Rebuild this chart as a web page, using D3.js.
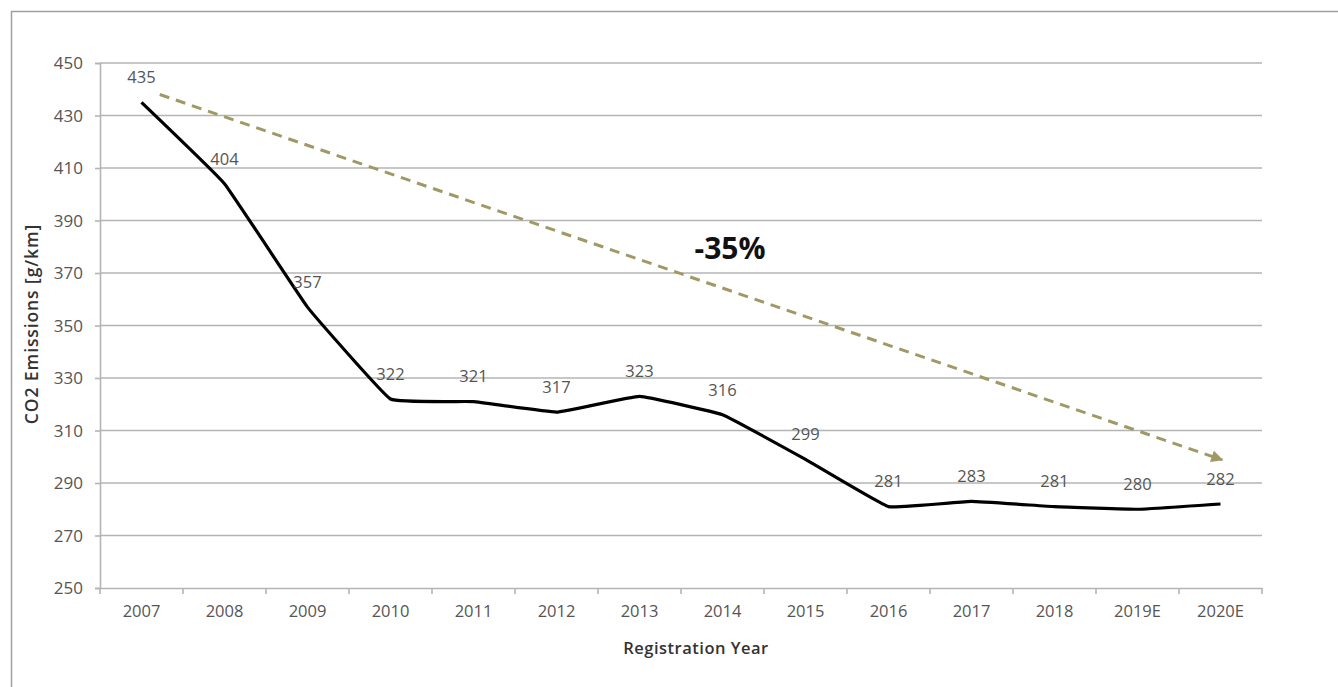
<!DOCTYPE html>
<html>
<head>
<meta charset="utf-8">
<script src="https://cdn.jsdelivr.net/npm/d3@7"></script>
<style>
  html, body { margin: 0; padding: 0; background: #fff; }
  svg { display: block; }
</style>
</head>
<body>
<svg id="chart" width="1338" height="687"></svg>
<script>
// ---- data ----
const years = ["2007","2008","2009","2010","2011","2012","2013","2014","2015","2016","2017","2018","2019E","2020E"];
const emissions = [435, 404, 357, 322, 321, 317, 323, 316, 299, 281, 283, 281, 280, 282];
const yTicks = [250, 270, 290, 310, 330, 350, 370, 390, 410, 430, 450];
// trend arrow: [category index position, value]
const trendStart = [0.22, 438];
const trendEnd = [13.02, 298.8];
const trendLabel = "-35%";
const xTitle = "Registration Year";
const yTitle = "CO2 Emissions [g/km]";

// ---- layout ----
const svg = d3.select("#chart");
const W = 1338, H = 687;
const pLeft = 100, pRight = 1262, pTop = 63, pBottom = 588;
const font = "'Open Sans', sans-serif";

// frame border
svg.append("path")
  .attr("d", `M11.5,${H} L11.5,11.5 L${W},11.5`)
  .attr("fill", "none").attr("stroke", "#a0a0a0").attr("stroke-width", 1.5);

const x = d3.scaleBand().domain(years).range([pLeft, pRight]).padding(0);
const y = d3.scaleLinear().domain([250, 450]).range([pBottom, pTop]);
const xi = d3.scaleLinear().domain([0, years.length - 1])
  .range([x(years[0]) + x.bandwidth() / 2, x(years[years.length - 1]) + x.bandwidth() / 2]);

// gridlines
svg.append("g").selectAll("line").data(yTicks.filter(d => d !== 250)).join("line")
  .attr("x1", pLeft).attr("x2", pRight)
  .attr("y1", d => y(d)).attr("y2", d => y(d))
  .attr("stroke", "#b4b4b4").attr("stroke-width", 1.6);

// y axis
const yAxis = svg.append("g").attr("transform", `translate(${pLeft},0)`)
  .call(d3.axisLeft(y).tickValues(yTicks).tickSize(5).tickPadding(12));
yAxis.select(".domain").attr("stroke", "#b4b4b4").attr("stroke-width", 1.6);
yAxis.selectAll(".tick line").attr("stroke", "#b4b4b4").attr("stroke-width", 1.6);
yAxis.selectAll(".tick text").attr("fill", "#555").style("font-family", font).style("font-size", "17px").attr("dy", "0.35em");

// x axis
const xAxis = svg.append("g").attr("transform", `translate(0,${pBottom})`)
  .call(d3.axisBottom(x).tickSize(0).tickPadding(17));
xAxis.select(".domain").attr("stroke", "#b4b4b4").attr("stroke-width", 1.6);
xAxis.selectAll(".tick text").attr("fill", "#555").style("font-family", font).style("font-size", "16.5px");
// boundary ticks between categories
const bounds = d3.range(years.length + 1).map(i => pLeft + i * x.bandwidth());
svg.append("g").selectAll("line").data(bounds).join("line")
  .attr("x1", d => d).attr("x2", d => d)
  .attr("y1", pBottom).attr("y2", pBottom + 6)
  .attr("stroke", "#b4b4b4").attr("stroke-width", 1.6);

// axis titles
svg.append("text").attr("x", 696).attr("y", 648).attr("dy", "0.35em")
  .attr("text-anchor", "middle").attr("fill", "#333")
  .style("font-family", font).style("font-size", "16.5px").style("font-weight", "600")
  .style("letter-spacing", "0.5px")
  .text(xTitle);
svg.append("text").attr("transform", "translate(32,324) rotate(-90)").attr("dy", "0.35em")
  .attr("text-anchor", "middle").attr("fill", "#333")
  .style("font-family", font).style("font-size", "17.5px").style("font-weight", "600")
  .style("letter-spacing", "0.9px")
  .text(yTitle);

// trend arrow
const defs = svg.append("defs");
defs.append("marker").attr("id", "arrow").attr("viewBox", "0 0 10 10")
  .attr("refX", 9).attr("refY", 5).attr("markerWidth", 4.5).attr("markerHeight", 4)
  .attr("markerUnits", "strokeWidth").attr("orient", "auto")
  .append("path").attr("d", "M0,0 L10,5 L0,10 Z").attr("fill", "#a09966");
svg.append("line")
  .attr("x1", xi(trendStart[0])).attr("y1", y(trendStart[1]))
  .attr("x2", xi(trendEnd[0])).attr("y2", y(trendEnd[1]))
  .attr("stroke", "#a09966").attr("stroke-width", 3)
  .attr("stroke-dasharray", "10,7")
  .attr("marker-end", "url(#arrow)");

svg.append("text").attr("x", 730).attr("y", 248).attr("dy", "0.35em")
  .attr("text-anchor", "middle").attr("fill", "#111")
  .style("font-family", font).style("font-size", "30px").style("font-weight", "700")
  .text(trendLabel);

// line
const line = d3.line()
  .x((d, i) => x(years[i]) + x.bandwidth() / 2)
  .y(d => y(d))
  .curve(d3.curveCardinal.tension(0.75));
svg.append("path").datum(emissions)
  .attr("d", line).attr("fill", "none")
  .attr("stroke", "#000").attr("stroke-width", 3.2)
  .attr("stroke-linejoin", "round").attr("stroke-linecap", "butt");

// data labels
svg.append("g").selectAll("text").data(emissions).join("text")
  .attr("x", (d, i) => x(years[i]) + x.bandwidth() / 2)
  .attr("y", d => y(d) - 25).attr("dy", "0.35em")
  .attr("text-anchor", "middle").attr("fill", "#555")
  .style("font-family", font).style("font-size", "16.5px")
  .text(d => d);
</script>
</body>
</html>
